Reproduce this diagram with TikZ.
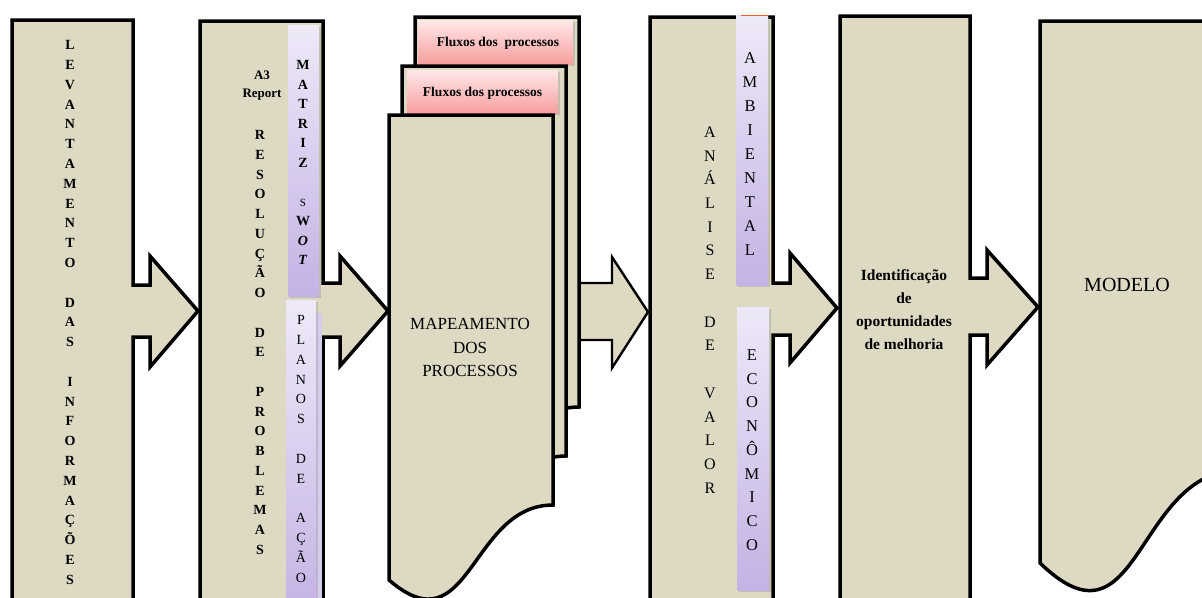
\documentclass[tikz,border=0pt]{standalone}
\usepackage{fontspec}
\setmainfont{Liberation Serif}
\usetikzlibrary{shadows}
\definecolor{tanfill}{HTML}{DDD9C3}
\definecolor{lilactop}{RGB}{238,233,248}
\definecolor{lilacbot}{RGB}{196,178,228}
\definecolor{lilacback}{RGB}{214,204,236}
\definecolor{rosetop}{RGB}{255,232,232}
\definecolor{rosebot}{RGB}{246,158,158}
\definecolor{edgeorange}{RGB}{236,96,40}
\tikzset{
  block/.style={fill=tanfill, draw=black, line width=3.5pt, line join=miter, miter limit=10},
  thinblock/.style={fill=tanfill, draw=black, line width=2.4pt, line join=miter, miter limit=10},
  lilacbar/.style={top color=lilactop, bottom color=lilacbot, draw=none,
    drop shadow={shadow xshift=2pt, shadow yshift=-2pt, opacity=0.3}},
  rosebar/.style={top color=rosetop, bottom color=rosebot, draw=none,
    drop shadow={shadow xshift=2pt, shadow yshift=-2pt, opacity=0.3}},
  stack/.style 2 args={align=center, inner sep=0pt, font=\fontsize{#1}{#2}\selectfont},
  stackbold/.style 2 args={align=center, inner sep=0pt, font=\fontsize{#1}{#2}\selectfont\bfseries},
  label/.style={inner sep=0pt},
}
\begin{document}
\begin{tikzpicture}[x=1pt, y=-1pt]
\useasboundingbox (0,0) rectangle (1202,597);
\begin{scope}
\clip (0,0) rectangle (1202,597);
\fill[white] (0,0) rectangle (1202,597);

% step 1: survey column with right arrow
\path[block] (12,20) -- (133,20) -- (133,285) -- (150,285) -- (150,256) -- (198,311)
  -- (150,367) -- (150,337) -- (133,337) -- (133,615) -- (12,615) -- cycle;
\node[stackbold={14}{19.8}] (levantamento) at (70,312.5)
  {L\\E\\V\\A\\N\\T\\A\\M\\E\\N\\T\\O\\~\\D\\A\\S\\~\\I\\N\\F\\O\\R\\M\\A\\Ç\\Õ\\E\\S};

% step 2: A3 report column with right arrow
\path[block] (200,21) -- (323,21) -- (323,283) -- (340,283) -- (340,256) -- (388,311)
  -- (340,366) -- (340,337) -- (323,337) -- (323,615) -- (200,615) -- cycle;
\node[stackbold={13}{18}] (a3) at (262,86) {A3\\Report};
\node[stackbold={14}{19.76}] (resolucao) at (260,342.5)
  {R\\E\\S\\O\\L\\U\\Ç\\Ã\\O\\~\\D\\E\\~\\P\\R\\O\\B\\L\\E\\M\\A\\S};
\path[lilacbar] (288,25) rectangle (319,296);
\node[stackbold={14}{19.5}] (swot) at (303,162.5)
  {M\\A\\T\\R\\I\\Z\\~\\{\fontsize{11}{19.5}\selectfont\mdseries S}\\W\\\textit{O}\\\textit{T}};
\fill[lilacback] (292,313) rectangle (322,615);
\path[lilacbar] (286,300) rectangle (316,615);
\node[stack={14}{19.85}] (planos) at (301,449)
  {P\\L\\A\\N\\O\\S\\~\\D\\E\\~\\A\\Ç\\Ã\\O};

% arrow from the process maps to the value analysis
\path[thinblock] (540,283) -- (612,283) -- (612,257) -- (648,312) -- (612,368) -- (612,340) -- (540,340);

% step 3: stacked process-flow documents
\path[block] (415,17) -- (579,17) -- (579,407) .. controls (496,407) and (496,552) .. (415,482) -- cycle;
\path[rosebar] (418,20) rectangle (573,64);
\node[label, font=\fontsize{13.5}{16}\selectfont\bfseries] (fluxo1) at (498,43) {Fluxos dos~ processos};
\path[block] (402,66) -- (566,66) -- (566,456) .. controls (483,456) and (483,601) .. (402,531) -- cycle;
\path[rosebar] (407,70) rectangle (558,113);
\node[label, font=\fontsize{13.5}{16}\selectfont\bfseries] (fluxo2) at (482.5,93) {Fluxos dos processos};
\path[block] (389,115) -- (553,115) -- (553,505) .. controls (470,505) and (470,650) .. (389,580) -- cycle;
\node[stack={17}{23.5}] (mapeamento) at (470,347.5) {MAPEAMENTO\\DOS\\PROCESSOS};

% step 4: value analysis column with right arrow
\path[block] (650,17) -- (773,17) -- (773,283) -- (790,283) -- (790,253) -- (837,308)
  -- (790,363) -- (790,335) -- (773,335) -- (773,615) -- (650,615) -- cycle;
\node[stack={16}{23.73}] (analise) at (710,310)
  {A\\N\\Á\\L\\I\\S\\E\\~\\D\\E\\~\\V\\A\\L\\O\\R};
\path[lilacbar] (736,15) rectangle (768,285);
\draw[edgeorange, line width=1.6pt] (741,15.5) -- (768,15.5);
\node[stack={16.5}{24}] (ambiental) at (750,154) {A\\M\\B\\I\\E\\N\\T\\A\\L};
\path[lilacbar] (737,307) rectangle (769,590);
\node[stack={16.5}{23.75}] (economico) at (752,450) {E\\C\\O\\N\\Ô\\M\\I\\C\\O};

% step 5: improvement opportunities column with right arrow
\path[block] (840,16) -- (970,16) -- (970,278) -- (987,278) -- (987,250) -- (1038,307)
  -- (987,365) -- (987,335) -- (970,335) -- (970,615) -- (840,615) -- cycle;
\node[stackbold={15.5}{23}] (oportunidades) at (904,310)
  {Identificação\\de\\oportunidades\\de melhoria};

% step 6: model document
\path[block] (1040,21) -- (1240,21) -- (1240,470) .. controls (1135,470) and (1140,660) .. (1040,563) -- cycle;
\node[label, font=\fontsize{20}{24}\selectfont] (modelo) at (1127,285) {MODELO};
\end{scope}
\end{tikzpicture}
\end{document}
